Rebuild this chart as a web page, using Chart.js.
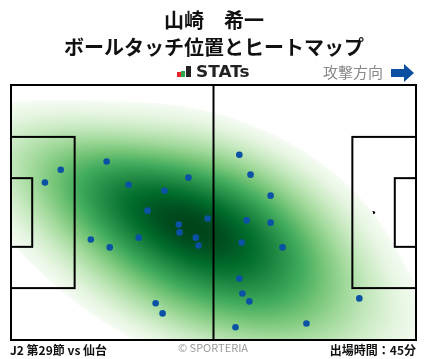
<!DOCTYPE html>
<html><head><meta charset="utf-8">
<script src="https://cdn.jsdelivr.net/npm/chart.js@4/dist/chart.umd.min.js"></script>
<style>html,body{margin:0;padding:0;background:#fff;}canvas{display:block}</style>
</head><body>
<canvas id="c" width="428" height="359"></canvas>
<script>
// ---- data (pitch metres: x 0..105 left->right, y 0..68 bottom->top) ----
const touchX = [8.8, 12.9, 24.8, 30.5, 39.8, 46.0, 35.4, 51.0, 43.5, 43.7, 47.9, 48.6, 20.7, 25.6, 33.1,
                59.2, 62.1, 67.3, 61.1, 67.3, 59.8, 70.4, 37.5, 39.3, 59.2, 60.0, 61.8, 58.2, 76.6, 90.3];
const touchY = [42.0, 45.4, 47.6, 41.4, 39.8, 43.3, 34.5, 32.4, 30.8, 28.7, 27.3, 25.2, 26.8, 24.7, 27.3,
                49.4, 44.1, 38.5, 31.9, 31.3, 26.0, 24.7, 9.8, 7.1, 16.4, 12.4, 10.3, 3.4, 4.4, 11.1];
const pitchLength = 105, pitchWidth = 68;
const titleLines = ['山崎　希一', 'ボールタッチ位置とヒートマップ'];
const brandLabel = 'STATs';
const directionLabel = '攻撃方向';
const footerLeft = 'J2 第29節 vs 仙台';
const footerCenter = '© SPORTERIA';
const footerRight = '出場時間：45分';

const KDE_THRESH = 0.09;
const BW_LONG = 1.9, BW_SHORT = 1.35;
const COLOR_GAMMA = 0.8;
const GREENS = [[247,252,245],[229,245,224],[199,233,192],[161,217,155],[116,196,118],[65,171,93],[35,139,69],[0,109,44],[0,68,27]];
function greens(t){
  t = Math.max(0, Math.min(1, t));
  const p = t*(GREENS.length-1), i = Math.min(GREENS.length-2, Math.floor(p)), f = p-i;
  return GREENS[i].map((c,k)=>Math.round(c+(GREENS[i+1][k]-c)*f));
}

function makeKde(){
  const n = touchX.length;
  const mx = touchX.reduce((a,b)=>a+b,0)/n, my = touchY.reduce((a,b)=>a+b,0)/n;
  let sxx=0, syy=0, sxy=0;
  for(let i=0;i<n;i++){const dx=touchX[i]-mx, dy=touchY[i]-my; sxx+=dx*dx; syy+=dy*dy; sxy+=dx*dy;}
  sxx/=(n-1); syy/=(n-1); sxy/=(n-1);
  const tr=sxx+syy, dt=sxx*syy-sxy*sxy, disc=Math.sqrt(Math.max(0,tr*tr/4-dt));
  const l1=tr/2+disc, l2=tr/2-disc;
  let vx=sxy, vy=l1-sxx; if(Math.abs(vx)+Math.abs(vy)<1e-12){vx=1;vy=0;}
  const vn=Math.hypot(vx,vy); vx/=vn; vy/=vn;
  const ux=-vy, uy=vx;
  const f = Math.pow(n, -1/6);
  const sL = Math.sqrt(l1)*f*BW_LONG, sS = Math.sqrt(l2)*f*BW_SHORT;
  const fn = (x,y)=>{
    let s=0;
    for(let i=0;i<n;i++){
      const dx=x-touchX[i], dy=y-touchY[i];
      const a=(dx*vx+dy*vy)/sL, b=(dx*ux+dy*uy)/sS;
      s+=Math.exp(-0.5*(a*a+b*b));
    }
    return s;
  };
  const bwx=Math.sqrt(sL*sL*vx*vx+sS*sS*ux*ux), bwy=Math.sqrt(sL*sL*vy*vy+sS*sS*uy*uy);
  return {fn, bwx, bwy};
}

let heatCanvas = null;
function buildHeat(chart){
  const {chartArea:ar, scales:{x,y}} = chart;
  const kde = makeKde();
  const x0 = Math.min(...touchX)-3*kde.bwx, x1 = Math.max(...touchX)+3*kde.bwx;
  const y0 = Math.min(...touchY)-3*kde.bwy, y1 = Math.max(...touchY)+3*kde.bwy;
  const G=200, vals=[];
  for(let i=0;i<G;i++)for(let j=0;j<G;j++) vals.push(kde.fn(x0+(x1-x0)*i/(G-1), y0+(y1-y0)*j/(G-1)));
  vals.sort((p,q)=>q-p);
  const total = vals.reduce((p,q)=>p+q,0);
  let cum=0, thr=vals[vals.length-1];
  for(const v of vals){cum+=v; if(cum/total >= 1-KDE_THRESH){thr=v;break;}}
  const vmax = vals[0];
  const w = Math.round(ar.right-ar.left), h = Math.round(ar.bottom-ar.top);
  const off = document.createElement('canvas'); off.width=w; off.height=h;
  const octx = off.getContext('2d');
  const img = octx.createImageData(w,h);
  for(let j=0;j<h;j++){
    const vy = y.getValueForPixel(ar.top+j+0.5);
    for(let i=0;i<w;i++){
      const vx = x.getValueForPixel(ar.left+i+0.5);
      const v = kde.fn(vx,vy);
      const k=(j*w+i)*4;
      if(v<thr){img.data[k+3]=0;continue;}
      const c = greens(Math.pow((v-thr)/(vmax-thr), COLOR_GAMMA));
      img.data[k]=c[0];img.data[k+1]=c[1];img.data[k+2]=c[2];img.data[k+3]=255;
    }
  }
  octx.putImageData(img,0,0);
  heatCanvas = off;
}

const pitchPlugin = {
  id:'pitch',
  beforeDatasetsDraw(chart){
    const {ctx, chartArea:ar, scales:{x,y}} = chart;
    const px=v=>x.getPixelForValue(v), py=v=>y.getPixelForValue(v);
    ctx.save();
    ctx.strokeStyle='#000'; ctx.fillStyle='#000'; ctx.lineWidth=2;
    ctx.beginPath(); ctx.arc(px(52.5),py(34), px(52.5+9.15)-px(52.5), 0, Math.PI*2); ctx.stroke();
    for(const sx of [11, pitchLength-11]){ctx.beginPath(); ctx.arc(px(sx),py(34),1.6,0,Math.PI*2); ctx.fill();}
    if(!heatCanvas) buildHeat(chart);
    ctx.drawImage(heatCanvas, ar.left, ar.top);
    const rect=(x0,y0,x1,y1)=>{ctx.strokeRect(px(x0),py(y1),px(x1)-px(x0),py(y0)-py(y1));};
    ctx.lineWidth=2; ctx.strokeStyle='#000';
    rect(0,0,pitchLength,pitchWidth);
    ctx.beginPath(); ctx.moveTo(px(52.5),py(0)); ctx.lineTo(px(52.5),py(pitchWidth)); ctx.stroke();
    const pbW=40.32, gaW=18.32;
    rect(0,34-pbW/2,16.5,34+pbW/2);
    rect(0,34-gaW/2,5.5,34+gaW/2);
    rect(pitchLength-16.5,34-pbW/2,pitchLength,34+pbW/2);
    rect(pitchLength-5.5,34-gaW/2,pitchLength,34+gaW/2);
    ctx.restore();
  },
  afterDraw(chart){
    const ctx = chart.ctx;
    ctx.save();
    ctx.textBaseline='middle';
    ctx.fillStyle='#111';
    ctx.textAlign='center';
    ctx.font='bold 20px "Noto Sans CJK JP"';
    ctx.fillText(titleLines[0], 214, 20);
    ctx.fillText(titleLines[1], 214, 47);
    ctx.fillStyle='#e8232a'; ctx.fillRect(177,72,4,5);
    ctx.fillStyle='#2ba84a'; ctx.fillRect(181,71,4,6);
    ctx.fillStyle='#222'; ctx.fillRect(186,66,5,11);
    ctx.fillStyle='#222'; ctx.textAlign='left';
    ctx.save(); ctx.translate(196,73); ctx.scale(1.13,1);
    ctx.font='bold 15px "DejaVu Sans"';
    ctx.fillText(brandLabel, 0, 0);
    ctx.restore();
    ctx.fillStyle='#888'; ctx.font='15px "Noto Sans CJK JP"';
    ctx.fillText(directionLabel, 323, 72);
    ctx.fillStyle='#0b4fa3';
    ctx.beginPath();
    ctx.moveTo(391,69); ctx.lineTo(404,69); ctx.lineTo(404,64); ctx.lineTo(414,73);
    ctx.lineTo(404,82); ctx.lineTo(404,77); ctx.lineTo(391,77); ctx.closePath(); ctx.fill();
    ctx.fillStyle='#111'; ctx.font='bold 12px "Noto Sans CJK JP"';
    ctx.textAlign='left'; ctx.fillText(footerLeft, 10, 350);
    ctx.textAlign='right'; ctx.fillText(footerRight, 416, 350);
    ctx.fillStyle='#999'; ctx.font='11px "Noto Sans CJK JP"'; ctx.textAlign='center';
    ctx.fillText(footerCenter, 213, 348);
    ctx.restore();
  }
};

new Chart(document.getElementById('c'), {
  type:'scatter',
  data:{datasets:[{data: touchX.map((v,i)=>({x:v, y:touchY[i]})), backgroundColor:'#0b52a5', borderWidth:0, pointRadius:3.3, pointHoverRadius:3.3}]},
  options:{
    responsive:false, animation:false, devicePixelRatio:1,
    layout:{padding:{left:11, right:12, top:85, bottom:19}},
    scales:{x:{type:'linear', min:0, max:pitchLength, display:false}, y:{type:'linear', min:0, max:pitchWidth, display:false}},
    plugins:{legend:{display:false}, tooltip:{enabled:false}},
    events:[]
  },
  plugins:[pitchPlugin]
});
</script>
</body></html>
